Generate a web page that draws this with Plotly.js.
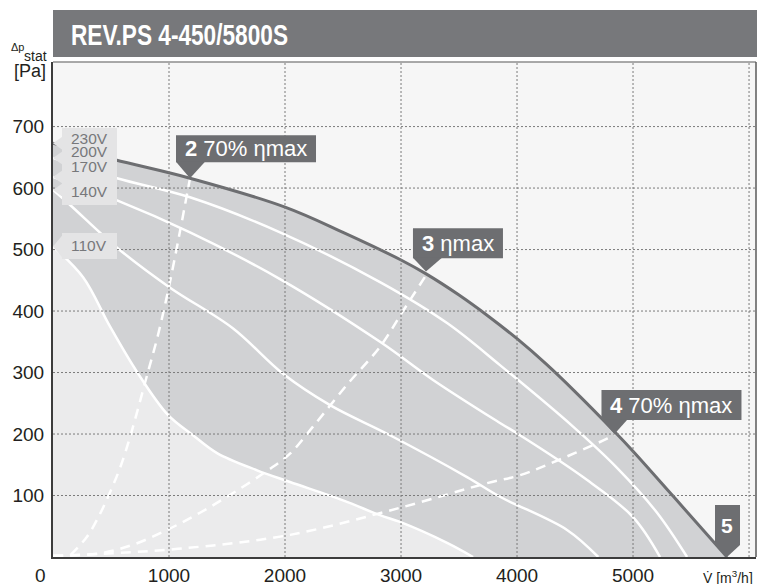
<!DOCTYPE html>
<html><head><meta charset="utf-8">
<script src="https://cdn.plot.ly/plotly-3.0.1.min.js"></script>
<style>html,body{margin:0;padding:0;background:#fff;}#chart{width:757px;height:584px;}</style>
</head><body><div id="chart"></div>
<script>
// ---- data ----
const xTickVals = [1000, 2000, 3000, 4000, 5000];
const xTickText = ['1000', '2000', '3000', '4000', '5000'];
const yTickVals = [100, 200, 300, 400, 500, 600, 700];
const yTickText = ['100', '200', '300', '400', '500', '600', '700'];
const xGridVals = [1000, 2000, 3000, 4000, 5000, 6000];
const yGridVals = [100, 200, 300, 400, 500, 600, 700];

const v230 = [0, 534, 1181, 2000, 2500, 3000, 3220, 3500, 3750, 4000, 4250, 4500, 4840, 5000, 5345, 5810];
const p230 = [673, 646, 616, 569, 528, 483, 460, 426, 392, 355, 314, 269, 204, 172, 99, 0];

const v200 = [0, 552, 1181, 1957, 2819, 3400, 3853, 4483, 4862, 5207, 5466];
const p200 = [649, 616, 585, 528, 447, 380, 312, 212, 145, 72, 0];

const v170 = [0, 552, 1181, 1957, 2819, 3276, 3853, 4026, 4569, 5000, 5233];
const p170 = [618, 580, 528, 452, 350, 288, 218, 198, 130, 65, 0];

const v140 = [0, 150, 552, 1009, 1550, 1983, 2388, 2905, 3569, 3853, 4431, 4700];
const p140 = [597, 572, 503, 438, 372, 298, 247, 198, 130, 98, 44, 0];

const v110 = [0, 259, 491, 724, 991, 1207, 1414, 1759, 2043, 2500, 2819, 2991, 3397, 3621];
const p110 = [505, 455, 375, 301, 231, 198, 169, 141, 122, 92, 68, 57, 23, 0];

const vD2 = [150, 293, 405, 491, 578, 664, 810, 905, 1000, 1095, 1181];
const pD2 = [3, 33, 70, 105, 145, 195, 295, 361, 440, 530, 616];

const vD3 = [0, 405, 690, 983, 1267, 1552, 1845, 2043, 2241, 2534, 2819, 3017, 3215];
const pD3 = [2, 6, 20, 44, 72, 104, 140, 168, 212, 280, 342, 400, 458];

const vD4 = [0, 405, 1121, 2043, 2991, 3741, 4026, 4285, 4780, 4840];
const pD4 = [2, 5, 14, 36, 80, 120, 133, 152, 193, 200];

const voltLabels = ['230V', '200V', '170V', '140V', '110V'];
const pointLabels = ['<b>2</b> 70% ηmax', '<b>3</b> ηmax', '<b>4</b> 70% ηmax', '<b>5</b>'];
const titleText = 'REV.PS 4-450/5800S';

// ---- geometry ----
const W = 757, H = 584, L = 53, R = 1, T = 62, B = 27;
const XR = [0, 6060], YR = [0, 805];
const pw = W - L - R, ph = H - T - B;
function X(v) { return L + (v - XR[0]) / (XR[1] - XR[0]) * pw; }
function Y(p) { return T + ph - (p - YR[0]) / (YR[1] - YR[0]) * ph; }
function px(x) { return (x - L) / pw; }
function py(y) { return (T + ph - y) / ph; }
function poly(pts, color) {
  return {type: 'path', xref: 'paper', yref: 'paper', layer: 'above',
    path: 'M' + pts.map(p => px(p[0]).toFixed(5) + ',' + py(p[1]).toFixed(5)).join('L') + 'Z',
    fillcolor: color, line: {width: 0}};
}
const last = a => a[a.length - 1];

const white = '#ffffff', dark = '#6d6e71';
const sm = 1.0;
const traces = [
  {x: v230, y: p230, mode: 'lines', fill: 'tozeroy', fillcolor: '#d1d2d4',
   line: {width: 0, shape: 'spline', smoothing: sm}, hoverinfo: 'skip'},
  {x: v110, y: p110, mode: 'lines', fill: 'tozeroy', fillcolor: '#ebebec',
   line: {width: 2.5, color: white, shape: 'spline', smoothing: sm}, hoverinfo: 'skip'},
  {x: v140, y: p140, mode: 'lines', line: {width: 2.5, color: white, shape: 'spline', smoothing: sm}},
  {x: v170, y: p170, mode: 'lines', line: {width: 2.5, color: white, shape: 'spline', smoothing: sm}},
  {x: v200, y: p200, mode: 'lines', line: {width: 2.5, color: white, shape: 'spline', smoothing: sm}},
  {x: vD2, y: pD2, mode: 'lines', line: {width: 2.5, color: white, dash: '10px,7px', shape: 'spline', smoothing: sm}},
  {x: vD3, y: pD3, mode: 'lines', line: {width: 2.5, color: white, dash: '10px,7px', shape: 'spline', smoothing: sm}},
  {x: vD4, y: pD4, mode: 'lines', line: {width: 2.5, color: white, dash: '10px,7px', shape: 'spline', smoothing: sm}},
  {x: v230, y: p230, mode: 'lines', line: {width: 3, color: dark, shape: 'spline', smoothing: sm}}
];

const shapes = [];
const annotations = [];
// grid
xGridVals.forEach(v => shapes.push({type: 'line', xref: 'x', yref: 'paper', x0: v, x1: v, y0: 0, y1: 1, layer: 'above',
  line: {color: '#7b7b7b', width: 1, dash: '2px,2px'}}));
yGridVals.forEach(p => shapes.push({type: 'line', xref: 'paper', yref: 'y', x0: 0, x1: 1, y0: p, y1: p, layer: 'above',
  line: {color: '#7b7b7b', width: 1, dash: '2px,2px'}}));
// borders top / right
shapes.push({type: 'line', xref: 'paper', yref: 'paper', x0: 0, x1: 1, y0: 1, y1: 1, layer: 'above', line: {color: '#8c8c8c', width: 1.5}});
shapes.push({type: 'line', xref: 'paper', yref: 'paper', x0: 1, x1: 1, y0: 0, y1: 1, layer: 'above', line: {color: '#5a5a5a', width: 1.5}});
// title bar
shapes.push(poly([[L, 10], [757, 10], [757, 57], [L, 57]], '#77787b'));
annotations.push({text: titleText, xref: 'paper', yref: 'paper', x: px(69), y: py(34), xanchor: 'left', yanchor: 'middle', align: 'left',
  showarrow: false, font: {family: 'Liberation Sans, Arial, sans-serif', size: 30, weight: 'bold', color: '#ffffff'}});

// voltage label boxes
const boxC = '#e4e4e5', voltC = '#77787b';
shapes.push(poly([[62, 128], [117, 128], [117, 205], [62, 205]], boxC));
[p230[0], p200[0], p170[0], p140[0]].forEach(p => {
  const y = Y(p); shapes.push(poly([[53, y], [63, y - 7], [63, y + 7]], boxC));
});
shapes.push(poly([[62, 233], [117, 233], [117, 259], [62, 259]], boxC));
{ const y = Y(p110[0]); shapes.push(poly([[53, y], [63, y - 12], [63, y + 12]], boxC)); }
const voltY = [138, 152, 166, 191, 246];
voltLabels.forEach((t, i) => annotations.push({text: t, xref: 'paper', yref: 'paper', x: px(89), y: py(voltY[i]),
  xanchor: 'center', yanchor: 'middle', showarrow: false, font: {family: 'Liberation Sans, Arial, sans-serif', size: 15.5, color: voltC}}));

// point labels
const labC = '#6d6e71';
function pointLabel(tx, ty, dl, dr, top, bot, tl, tr, text) {
  shapes.push(poly([[tx - dl, ty - top], [tx + dr, ty - top], [tx + dr, ty - bot], [tx - dl, ty - bot]], labC));
  shapes.push(poly([[tx - tl, ty - bot - 0.5], [tx + tr, ty - bot - 0.5], [tx, ty]], labC));
  annotations.push({text: text, xref: 'paper', yref: 'paper', x: px(tx + (dr - dl) / 2), y: py(ty - (top + bot) / 2),
    xanchor: 'center', yanchor: 'middle', showarrow: false, font: {family: 'Liberation Sans, Arial, sans-serif', size: 22, color: '#ffffff'}});
}
pointLabel(X(last(vD2)), Y(last(pD2)), 14, 126, 43, 16, 14, 15, pointLabels[0]);
pointLabel(X(last(vD3)), Y(last(pD3)) - 4, 13, 77, 43, 13, 13, 16, pointLabels[1]);
pointLabel(X(last(vD4)), Y(last(pD4)), 13, 127, 44, 14, 13, 13, pointLabels[2]);
{ const tx = X(last(v230)), ty = Y(last(p230));
  shapes.push(poly([[tx - 12, ty - 52], [tx + 13, ty - 52], [tx + 13, ty - 12], [tx, ty], [tx - 12, ty - 12]], labC));
  annotations.push({text: pointLabels[3], xref: 'paper', yref: 'paper', x: px(tx + 0.5), y: py(ty - 32), xanchor: 'center', yanchor: 'middle',
    showarrow: false, font: {family: 'Liberation Sans, Arial, sans-serif', size: 21, color: '#ffffff'}});
}

// axis texts
const axFont = {family: 'Liberation Sans, Arial, sans-serif', size: 19, color: '#231f20'};
annotations.push({text: '0', xref: 'paper', yref: 'paper', x: px(40), y: py(575), xanchor: 'center', yanchor: 'middle', showarrow: false, font: axFont});
annotations.push({text: 'Δp', xref: 'paper', yref: 'paper', x: px(26), y: py(47), xanchor: 'right', yanchor: 'middle', showarrow: false,
  font: {family: 'Liberation Sans, Arial, sans-serif', size: 11, color: '#231f20'}});
annotations.push({text: 'stat', xref: 'paper', yref: 'paper', x: px(49), y: py(56), xanchor: 'right', yanchor: 'middle', showarrow: false,
  font: {family: 'Liberation Sans, Arial, sans-serif', size: 14, color: '#231f20'}});
annotations.push({text: '[Pa]', xref: 'paper', yref: 'paper', x: px(48), y: py(71), xanchor: 'right', yanchor: 'middle', showarrow: false,
  font: {family: 'Liberation Sans, Arial, sans-serif', size: 18, color: '#231f20'}});
annotations.push({text: 'V̇ [m<sup>3</sup>/h]', xref: 'paper', yref: 'paper', x: px(755), y: py(577), xanchor: 'right', yanchor: 'middle', showarrow: false,
  font: {family: 'Liberation Sans, Arial, sans-serif', size: 14, color: '#231f20'}});

const layout = {
  width: W, height: H, margin: {l: L, r: R, t: T, b: B, pad: 0},
  paper_bgcolor: '#ffffff', plot_bgcolor: '#f6f6f6', showlegend: false,
  xaxis: {range: XR, tickvals: xTickVals, ticktext: xTickText, showgrid: false, zeroline: false,
    showline: true, linecolor: '#3c3c3c', linewidth: 2, ticks: '', ticklabelstandoff: 0, tickfont: axFont, fixedrange: true},
  yaxis: {range: YR, tickvals: yTickVals, ticktext: yTickText, showgrid: false, zeroline: false,
    showline: true, linecolor: '#3c3c3c', linewidth: 2, ticks: '', ticklabelstandoff: 3, tickfont: axFont, fixedrange: true},
  shapes: shapes, annotations: annotations
};
Plotly.newPlot('chart', traces, layout, {staticPlot: true, displayModeBar: false}).then(gd => {
  // condense the title text to the narrow width of the reference lettering
  const t = gd.querySelector('.annotation[data-index="0"] text.annotation-text');
  if (t) { t.setAttribute('textLength', '217'); t.setAttribute('lengthAdjust', 'spacingAndGlyphs'); }
});
</script></body></html>
